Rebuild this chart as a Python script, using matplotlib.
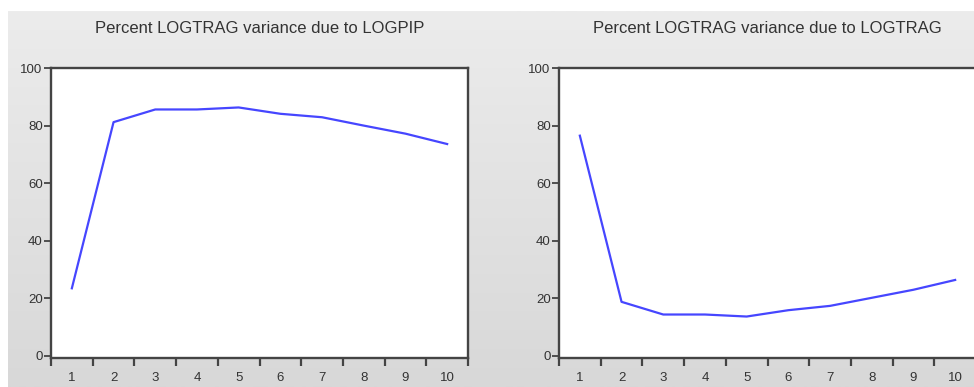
import numpy as np
import matplotlib
matplotlib.use("Agg")
import matplotlib.pyplot as plt
from matplotlib.colors import LinearSegmentedColormap

periods = [1, 2, 3, 4, 5, 6, 7, 8, 9, 10]
due_to_logpip = [23.5, 81.2, 85.6, 85.6, 86.3, 84.1, 82.9, 80.0, 77.2, 73.6]
due_to_logtrag = [76.5, 18.8, 14.4, 14.4, 13.7, 15.9, 17.4, 20.2, 23.0, 26.4]
titles = ["Percent LOGTRAG variance due to LOGPIP",
          "Percent LOGTRAG variance due to LOGTRAG"]
yticks = [0, 20, 40, 60, 80, 100]

W, H = 974, 387
fig = plt.figure(figsize=(W / 100, H / 100), dpi=100, facecolor="white")
plt.rcParams['font.family'] = ['Liberation Sans', 'DejaVu Sans']

# gray gradient background panel
bg = fig.add_axes([8 / W, 0, 1 - 8 / W, 1 - 11 / H])
grad = np.linspace(0, 1, 256).reshape(-1, 1)
cmap = LinearSegmentedColormap.from_list("g", ["#ececec", "#d8d8d8"])
bg.imshow(grad, aspect="auto", cmap=cmap, extent=[0, 1, 0, 1], origin="upper")
bg.axis("off")

def px(x0, x1, ytop, ybot):
    return [x0 / W, 1 - ybot / H, (x1 - x0) / W, (ybot - ytop) / H]

positions = [px(51, 468, 68, 358), px(559, 976, 68, 358)]
series = [due_to_logpip, due_to_logtrag]

for pos, vals, title in zip(positions, series, titles):
    ax = fig.add_axes(pos)
    ax.set_facecolor("white")
    ax.plot(periods, vals, color="#4646ff", lw=1.6, solid_joinstyle="round")
    ax.set_xlim(0.5, 10.5)
    ax.set_ylim(-0.7, 100)
    ax.set_yticks(yticks)
    ax.set_yticklabels([str(v) for v in yticks], fontsize=9.5, color="#333333")
    ax.set_xticks(np.arange(0.5, 11, 1.0))
    ax.set_xticklabels([])
    ax.set_xticks(periods, minor=True)
    ax.set_xticklabels([str(p) for p in periods], minor=True, fontsize=9.5, color="#333333")
    ax.tick_params(axis="x", which="major", direction="out", length=6, width=1.6, color="#444444")
    ax.tick_params(axis="x", which="minor", length=0, pad=10)
    ax.tick_params(axis="y", direction="out", length=5, width=1.3, color="#444444", pad=1)
    for s in ax.spines.values():
        s.set_color("#444444")
        s.set_linewidth(1.7)
    ax.set_title(title, fontsize=12, color="#333333", pad=25)

fig.savefig("out.png", dpi=100, facecolor=fig.get_facecolor())
